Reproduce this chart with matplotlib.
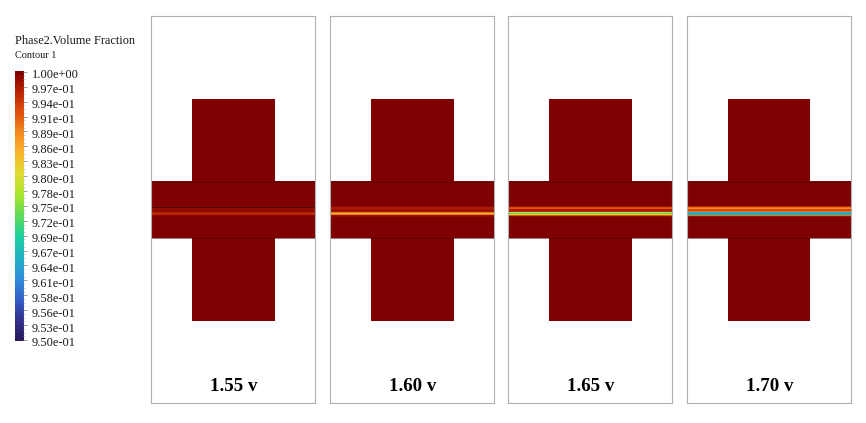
import matplotlib
matplotlib.use("Agg")
import matplotlib.pyplot as plt
import matplotlib.transforms as mtrans
from matplotlib.colors import LinearSegmentedColormap
import numpy as np

plt.rcParams['font.family'] = ['Liberation Serif', 'DejaVu Serif']

# colour scale
scale_labels = ['1.00e+00', '9.97e-01', '9.94e-01', '9.91e-01', '9.89e-01', '9.86e-01', '9.83e-01',
                '9.80e-01', '9.78e-01', '9.75e-01', '9.72e-01', '9.69e-01', '9.67e-01', '9.64e-01',
                '9.61e-01', '9.58e-01', '9.56e-01', '9.53e-01', '9.50e-01']
scale_colors = ['#2a1a5c', '#33338f', '#3360c8', '#2f8fdc', '#1fb4c4', '#1ccfa0', '#5fdc5a', '#a8e62e',
                '#e0dc30', '#fab82e', '#f58a1e', '#e0500c', '#b82404', '#7f0000']

voltages = ['1.55 v', '1.60 v', '1.65 v', '1.70 v']

# volume fraction, rows 204..217 of the channel, one list per panel
band_first_row = 204
band_155 = [1.0, 1.0, 1.0, 0.999, 0.999, 0.9985, 0.9985, 0.999, 0.997, 0.995, 0.997, 0.999, 1.0, 1.0]
band_160 = [1.0, 1.0, 1.0, 0.999, 0.997, 0.997, 0.998, 0.998, 0.990, 0.984, 0.990, 0.998, 0.999, 1.0]
band_165 = [1.0, 1.0, 1.0, 0.998, 0.993, 0.992, 0.997, 0.996, 0.980, 0.972, 0.980, 0.992, 0.999, 1.0]
band_170 = [1.0, 1.0, 1.0, 0.996, 0.990, 0.988, 0.993, 0.990, 0.966, 0.963, 0.966, 0.990, 0.998, 1.0]
bands = [band_155, band_160, band_165, band_170]

# geometry of the cross, picture rows/columns inside a panel
panel_w = 164
panel_h = 387
channel_rows = (166, 222)
block_rows = (84, 305)
block_cols = (41, 123)

cmap = LinearSegmentedColormap.from_list('fluent', scale_colors)
W, H = 866, 423
fig = plt.figure(figsize=(W / 100, H / 100), dpi=100)


def px_axes(x0, y0, x1, y1):
    return fig.add_axes([x0 / W, 1 - y1 / H, (x1 - x0) / W, (y1 - y0) / H])


for left, band, label in zip([151, 330, 508, 687], bands, voltages):
    ax = px_axes(left, 16, left + panel_w, 16 + panel_h)
    field = np.full((panel_h, panel_w), np.nan)
    field[channel_rows[0]:channel_rows[1], :] = 1.0
    field[block_rows[0]:block_rows[1], block_cols[0]:block_cols[1]] = 1.0
    start = band_first_row - 16
    field[start:start + len(band), :] = np.array(band)[:, None]
    ax.imshow(field, cmap=cmap, vmin=0.95, vmax=1.0, aspect='auto', interpolation='nearest',
              extent=(0, panel_w, panel_h, 0))
    # thin interface lines
    ax.hlines(channel_rows, 0, panel_w, color='#3a0000', lw=0.6, alpha=0.6)
    ax.hlines(191, 0, panel_w, color='#2a0000', lw=0.7, alpha=0.7 if left == 151 else 0.0)
    ax.set_xticks([])
    ax.set_yticks([])
    for s in ax.spines.values():
        s.set_color('#b0b0b0')
        s.set_linewidth(0.8)
    ax.text(0.5, 0.0, label, transform=mtrans.offset_copy(ax.transAxes, fig=fig, x=1, y=17, units='dots'),
            ha='center', va='center', fontsize=13.6, fontweight='bold', color='black')

# colour bar
cax = px_axes(15, 71, 23, 341)
grad = np.linspace(1.0, 0.95, 270)[:, None]
cax.imshow(grad, cmap=cmap, vmin=0.95, vmax=1.0, aspect='auto', extent=(0, 1, -0.07, 18.06))
cax.set_xticks([])
cax.set_yticks(range(18, -1, -1), scale_labels)
cax.set_yticks(np.arange(0, 18, 0.25), minor=True)
cax.yaxis.tick_right()
cax.tick_params(axis='y', which='major', length=3, width=0.6, color='#909090', pad=3.2, labelsize=8.9,
                labelcolor='#1a1a1a')
cax.tick_params(axis='y', which='minor', length=1.5, width=0.4, color='#b0b0b0')
shift = mtrans.ScaledTranslation(0, -2.0 / 100, fig.dpi_scale_trans)
for tl in cax.get_yticklabels():
    tl.set_transform(tl.get_transform() + shift)
for s in cax.spines.values():
    s.set_visible(False)

fig.text(15 / W, 1 - 41 / H, 'Phase2.Volume Fraction', fontsize=8.8, va='center', color='#1a1a1a')
fig.text(15 / W, 1 - 55.5 / H, 'Contour 1', fontsize=7.4, va='center', color='#1a1a1a')

fig.savefig('out.png', dpi=100)
